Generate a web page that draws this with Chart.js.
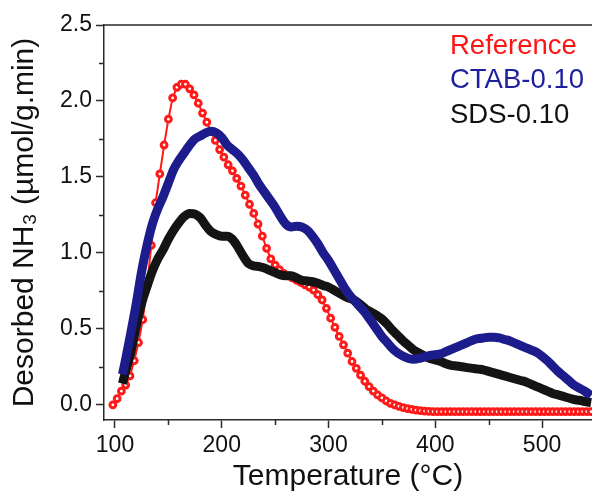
<!DOCTYPE html>
<html>
<head>
<meta charset="utf-8">
<script src="https://cdn.jsdelivr.net/npm/chart.js@4.4.1/dist/chart.umd.min.js"></script>
<style>
  html, body { margin: 0; padding: 0; background: #fff; }
  canvas { display: block; }
</style>
</head>
<body>
<canvas id="tpdChart" width="592" height="495"></canvas>
<script>
// Reference sample, one point about every 4 °C
const refTemps = [
  98, 102, 106, 110, 114, 118, 122, 126, 130, 134, 138, 142, 146, 150, 154, 158,
  162, 166, 170, 174, 178, 182, 186, 190, 194, 198, 202, 206, 210, 214, 218, 222,
  226, 230, 234, 238, 242, 246, 250, 254, 258, 262, 266, 270, 274, 278, 282, 286,
  290, 294, 298, 302, 306, 310, 314, 318, 322, 326, 330, 334, 338, 342, 346, 350,
  354, 358, 362, 366, 370, 374, 378, 382, 386, 390, 394, 398, 402, 406, 410, 414,
  418, 422, 426, 430, 434, 438, 442, 446, 450, 454, 458, 462, 466, 470, 474, 478,
  482, 486, 490, 494, 498, 502, 506, 510, 514, 518, 522, 526, 530, 534, 538, 542, 546
];
const refValues = [
  0.00, 0.04, 0.09, 0.13, 0.19, 0.29, 0.41, 0.56, 0.78, 1.05, 1.33, 1.52, 1.71, 1.88, 2.02, 2.09,
  2.11, 2.11, 2.08, 2.04, 1.985, 1.92, 1.86, 1.80, 1.74, 1.68, 1.63, 1.58, 1.54, 1.49, 1.44, 1.38,
  1.32, 1.26, 1.19, 1.11, 1.03, 0.96, 0.92, 0.89, 0.865, 0.85, 0.835, 0.82, 0.805, 0.79, 0.775, 0.755,
  0.725, 0.69, 0.635, 0.57, 0.51, 0.45, 0.395, 0.34, 0.285, 0.24, 0.195, 0.155, 0.12, 0.09, 0.065, 0.045,
  0.025, 0.01, 0.0, -0.01, -0.018, -0.025, -0.03, -0.035, -0.038, -0.041, -0.043, -0.045, -0.045, -0.045, -0.045, -0.045,
  -0.045, -0.045, -0.045, -0.045, -0.045, -0.045, -0.045, -0.045, -0.045, -0.045, -0.045, -0.045, -0.045, -0.045, -0.045, -0.045,
  -0.045, -0.045, -0.045, -0.045, -0.045, -0.045, -0.045, -0.045, -0.045, -0.045, -0.045, -0.045, -0.045, -0.045, -0.045, -0.045, -0.045
];

// CTAB-0.10 and SDS-0.10 read every 5 °C
const ctabTemps = [
  107, 110, 115, 120, 125, 130, 135, 140, 145, 150, 155, 160, 165, 170, 175, 180,
  185, 190, 195, 200, 205, 210, 215, 220, 225, 230, 235, 240, 245, 250, 255, 260,
  265, 270, 275, 280, 285, 290, 295, 300, 305, 310, 315, 320, 325, 330, 335, 340,
  345, 350, 355, 360, 365, 370, 375, 380, 385, 390, 395, 400, 405, 410, 415, 420,
  425, 430, 435, 440, 445, 450, 455, 460, 465, 470, 475, 480, 485, 490, 495, 500,
  505, 510, 515, 520, 525, 530, 535, 540, 546
];
const ctabValues = [
  0.20, 0.30, 0.48, 0.67, 0.88, 1.05, 1.19, 1.29, 1.37, 1.46, 1.55, 1.61, 1.66, 1.71, 1.75, 1.77,
  1.79, 1.80, 1.79, 1.76, 1.71, 1.68, 1.65, 1.61, 1.56, 1.51, 1.45, 1.40, 1.35, 1.30, 1.24, 1.19,
  1.17, 1.175, 1.17, 1.15, 1.11, 1.06, 1.00, 0.95, 0.89, 0.83, 0.77, 0.72, 0.68, 0.64, 0.60, 0.55,
  0.50, 0.45, 0.41, 0.37, 0.34, 0.32, 0.305, 0.30, 0.305, 0.315, 0.325, 0.33, 0.335, 0.35, 0.365, 0.38,
  0.395, 0.41, 0.425, 0.435, 0.44, 0.445, 0.445, 0.44, 0.43, 0.42, 0.405, 0.39, 0.375, 0.36, 0.345, 0.32,
  0.29, 0.255, 0.22, 0.19, 0.16, 0.13, 0.11, 0.09, 0.06
];

const sdsTemps = ctabTemps;
const sdsValues = [
  0.14, 0.22, 0.35, 0.52, 0.67, 0.78, 0.88, 0.96, 1.02, 1.09, 1.15, 1.20, 1.24, 1.26, 1.255, 1.23,
  1.18, 1.14, 1.12, 1.11, 1.11, 1.09, 1.04, 0.98, 0.93, 0.915, 0.91, 0.90, 0.885, 0.87, 0.855, 0.85,
  0.85, 0.835, 0.82, 0.815, 0.81, 0.80, 0.785, 0.775, 0.755, 0.735, 0.715, 0.70, 0.685, 0.66, 0.63, 0.61,
  0.59, 0.565, 0.53, 0.49, 0.455, 0.42, 0.39, 0.36, 0.34, 0.32, 0.305, 0.295, 0.285, 0.27, 0.26, 0.255,
  0.25, 0.245, 0.24, 0.235, 0.23, 0.22, 0.21, 0.20, 0.19, 0.18, 0.17, 0.16, 0.15, 0.135, 0.12, 0.105,
  0.09, 0.075, 0.065, 0.055, 0.045, 0.035, 0.03, 0.022, 0.015
];

const seriesLabels = ["Reference", "CTAB-0.10", "SDS-0.10"];
const seriesColors = ["#ff1a1a", "#1c1c8c", "#141414"];
const legendColors = ["#ff1414", "#1e1ea0", "#111111"];

const xTickValues = [100, 200, 300, 400, 500];
const xMinorTicks = [150, 250, 350, 450];
const yTickValues = [0, 0.5, 1.0, 1.5, 2.0, 2.5];
const yMinorTicks = [0.25, 0.75, 1.25, 1.75, 2.25];

const axisColor = "#2a2a2a";
const fontFamily = "'Liberation Sans', Arial, sans-serif";

const toPoints = (xs, ys) => xs.map((x, i) => ({ x: x, y: ys[i] }));

// top frame line, minor ticks and the text legend
const extras = {
  id: "extras",
  afterDraw(chart) {
    const { ctx, chartArea, scales } = chart;
    ctx.save();
    ctx.strokeStyle = axisColor;
    ctx.lineWidth = 1.5;
    ctx.beginPath();
    ctx.moveTo(chartArea.left, chartArea.top);
    ctx.lineTo(chartArea.right, chartArea.top);
    xMinorTicks.forEach((v) => {
      const px = Math.round(scales.x.getPixelForValue(v)) + 0.5;
      ctx.moveTo(px, chartArea.bottom);
      ctx.lineTo(px, chartArea.bottom + 5);
    });
    yMinorTicks.forEach((v) => {
      const py = Math.round(scales.y.getPixelForValue(v)) + 0.5;
      ctx.moveTo(chartArea.left, py);
      ctx.lineTo(chartArea.left - 5, py);
    });
    ctx.stroke();

    ctx.font = "27.5px " + fontFamily;
    ctx.textBaseline = "middle";
    ctx.textAlign = "left";
    chart.data.datasets.forEach((ds, i) => {
      ctx.fillStyle = legendColors[i];
      ctx.fillText(ds.label, chartArea.right - 142, chartArea.top + 21 + i * 34.5);
    });
    ctx.restore();
  },
};

const ctx = document.getElementById("tpdChart").getContext("2d");

window.tpdChart = new Chart(ctx, {
  type: "line",
  data: {
    datasets: [
      {
        label: seriesLabels[0],
        data: toPoints(refTemps, refValues),
        borderColor: seriesColors[0],
        borderWidth: 2,
        pointRadius: 2.9,
        pointBorderWidth: 3,
        pointBorderColor: seriesColors[0],
        pointBackgroundColor: "#ffffff",
        order: 3,
      },
      {
        label: seriesLabels[1],
        data: toPoints(ctabTemps, ctabValues),
        borderColor: seriesColors[1],
        borderWidth: 9,
        pointRadius: 0,
        cubicInterpolationMode: "monotone",
        order: 1,
      },
      {
        label: seriesLabels[2],
        data: toPoints(sdsTemps, sdsValues),
        borderColor: seriesColors[2],
        borderWidth: 9,
        pointRadius: 0,
        cubicInterpolationMode: "monotone",
        order: 2,
      },
    ],
  },
  options: {
    responsive: false,
    animation: false,
    // no auto padding: the plot runs right up to the canvas edge
    layout: { autoPadding: false, padding: { top: 25, right: 0, left: 0, bottom: 0 } },
    plugins: {
      legend: { display: false },
      tooltip: { enabled: false },
    },
    scales: {
      x: {
        type: "linear",
        min: 89.7,
        max: 546.8,
        afterBuildTicks: (scale) => {
          scale.ticks = xTickValues.map((v) => ({ value: v }));
        },
        afterFit: (scale) => {
          scale.height = 75;
        },
        border: { color: axisColor, width: 1.5 },
        grid: {
          drawOnChartArea: false,
          tickLength: 8,
          tickColor: axisColor,
          tickWidth: 1.5,
        },
        ticks: {
          color: "#111",
          padding: 4,
          maxRotation: 0,
          font: { family: fontFamily, size: 23 },
          callback: (v) => String(v),
        },
        title: {
          display: true,
          text: "Temperature (°C)",
          color: "#111",
          padding: { top: 0, bottom: 0 },
          font: { family: fontFamily, size: 30 },
        },
      },
      y: {
        min: -0.1,
        max: 2.5,
        afterBuildTicks: (scale) => {
          scale.ticks = yTickValues.map((v) => ({ value: v }));
        },
        afterFit: (scale) => {
          scale.width = 104;
        },
        border: { color: axisColor, width: 1.5 },
        grid: {
          drawOnChartArea: false,
          tickLength: 8,
          tickColor: axisColor,
          tickWidth: 1.5,
        },
        ticks: {
          color: "#111",
          padding: 4,
          font: { family: fontFamily, size: 23 },
          callback: (v) => Number(v).toFixed(1),
        },
        title: {
          display: true,
          text: "Desorbed NH₃ (µmol/g.min)",
          color: "#111",
          padding: { top: 7, bottom: 0 },
          font: { family: fontFamily, size: 30 },
        },
      },
    },
  },
  plugins: [extras],
});
</script>
</body>
</html>
